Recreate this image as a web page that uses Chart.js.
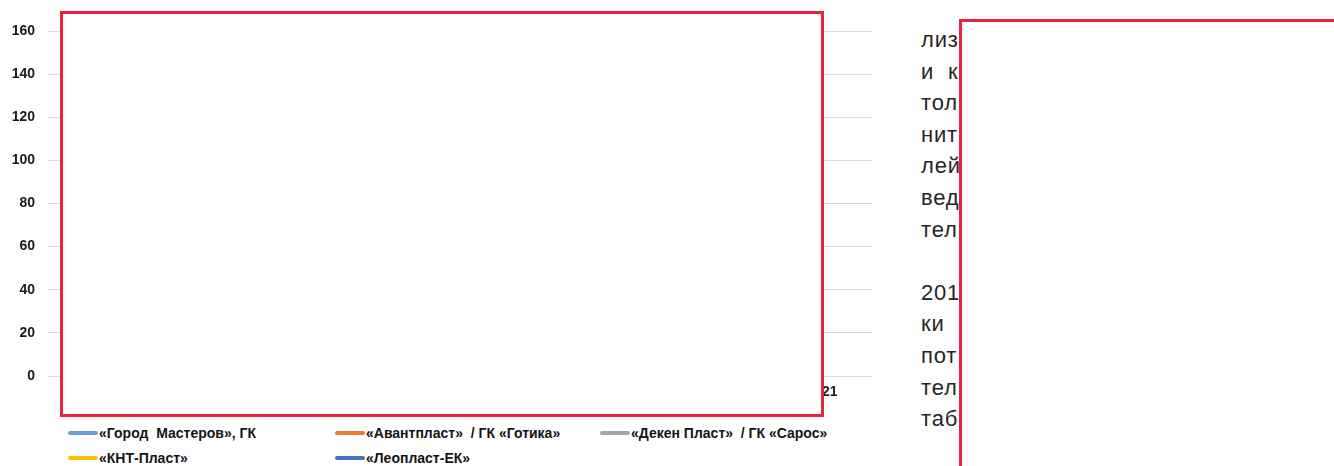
<!DOCTYPE html>
<html>
<head>
<meta charset="utf-8">
<script src="https://cdn.jsdelivr.net/npm/chart.js@4"></script>
<style>
  html, body { margin: 0; padding: 0; background: #fff; }
  body { width: 1334px; height: 466px; overflow: hidden; position: relative; font-family: "Liberation Sans", Arial, sans-serif; }
  #wrap { position: absolute; left: 0; top: 0; width: 880px; height: 410px; }
  .box { position: absolute; background: #fff; border: 3px solid #e8233d; box-sizing: border-box; }
  #legend { position: absolute; left: 0; top: 0; }
  .item { position: absolute; display: flex; align-items: center; white-space: pre; font-weight: bold; font-size: 14px; color: #141414; height: 16px; }
  .sw { width: 30px; height: 4px; border-radius: 2px; margin-right: 1px; }
  #text { position: absolute; left: 921px; top: 24px; font-size: 22px; letter-spacing: 0.8px; line-height: 31.6px; color: #262626; white-space: pre; }
</style>
</head>
<body>
<div id="wrap"><canvas id="c" width="880" height="410"></canvas></div>
<div id="legend"></div>
<div id="text"></div>
<div class="box" style="left:60px;top:11px;width:764px;height:406px;"></div>
<div class="box" style="left:959px;top:19px;width:420px;height:480px;"></div>
<script>
// ---- data ----
const categories = ['2014', '2015', '2016', '2017', '2018', '2019', '2020', '2021'];
const seriesNames = ['«Город  Мастеров», ГК', '«Авантпласт»  / ГК «Готика»', '«Декен Пласт»  / ГК «Сарос»', '«КНТ-Пласт»', '«Леопласт-ЕК»'];
const seriesColors = ['#6f9fd8', '#ed7d31', '#a5a5a5', '#ffc000', '#4472c4'];
const gorodMasterov = [62, 74, 88, 101, 112, 124, 134, 143];
const avantplast = [28, 33, 37, 41, 45, 48, 51, 54];
const dekenPlast = [18, 21, 24, 27, 30, 33, 36, 38];
const kntPlast = [14, 16, 17, 19, 20, 21, 22, 23];
const leoplast = [40, 46, 51, 56, 61, 66, 70, 75];
const seriesValues = [gorodMasterov, avantplast, dekenPlast, kntPlast, leoplast];
const yTicks = [0, 20, 40, 60, 80, 100, 120, 140, 160];
const sideText = ['лиз ации производства', 'и  конкуренции', 'тол ько', 'нит ельных', 'лей', 'вед ущих', 'тел ей', '', '201 9', 'ки  и', 'пот ребителей', 'тел и', 'таб лица'];

// ---- chart ----
const datasets = seriesNames.map((n, i) => ({
  label: n, data: seriesValues[i], borderColor: seriesColors[i], backgroundColor: seriesColors[i],
  borderWidth: 3, pointRadius: 0, tension: 0, fill: false
}));

new Chart(document.getElementById('c'), {
  type: 'line',
  data: { labels: categories, datasets },
  options: {
    responsive: false, animation: false,
    layout: { padding: { top: 31, right: 7, left: 0, bottom: 0 } },
    plugins: { legend: { display: false }, tooltip: { enabled: false } },
    scales: {
      x: {
        offset: true,
        grid: { display: false, drawTicks: false },
        border: { display: false },
        ticks: { padding: 8, color: '#1a1a1a', maxRotation: 0, autoSkip: false,
                 font: { family: 'Liberation Sans', size: 14, weight: 'bold' } },
        afterFit(s) { s.height = 34; }
      },
      y: {
        min: yTicks[0], max: yTicks[yTicks.length - 1],
        afterBuildTicks(s) { s.ticks = yTicks.map(v => ({ value: v })); },
        grid: { color: '#dcdcdc', tickLength: 8, lineWidth: 1 },
        border: { display: false },
        ticks: { padding: 13, color: '#1a1a1a',
                 font: { family: 'Liberation Sans', size: 14, weight: 'bold' } },
        afterFit(s) { s.width = 56; }
      }
    }
  }
});

// ---- legend ----
const legendPos = [[68, 425], [335, 425], [600, 425], [68, 450], [335, 450]];
const lg = document.getElementById('legend');
seriesNames.forEach((n, i) => {
  const d = document.createElement('div');
  d.className = 'item';
  d.style.left = legendPos[i][0] + 'px';
  d.style.top = legendPos[i][1] + 'px';
  d.innerHTML = '<span class="sw" style="background:' + seriesColors[i] + '"></span>';
  d.appendChild(document.createTextNode(n));
  lg.appendChild(d);
});

// ---- side text ----
document.getElementById('text').textContent = sideText.join('\n');
</script>
</body>
</html>
